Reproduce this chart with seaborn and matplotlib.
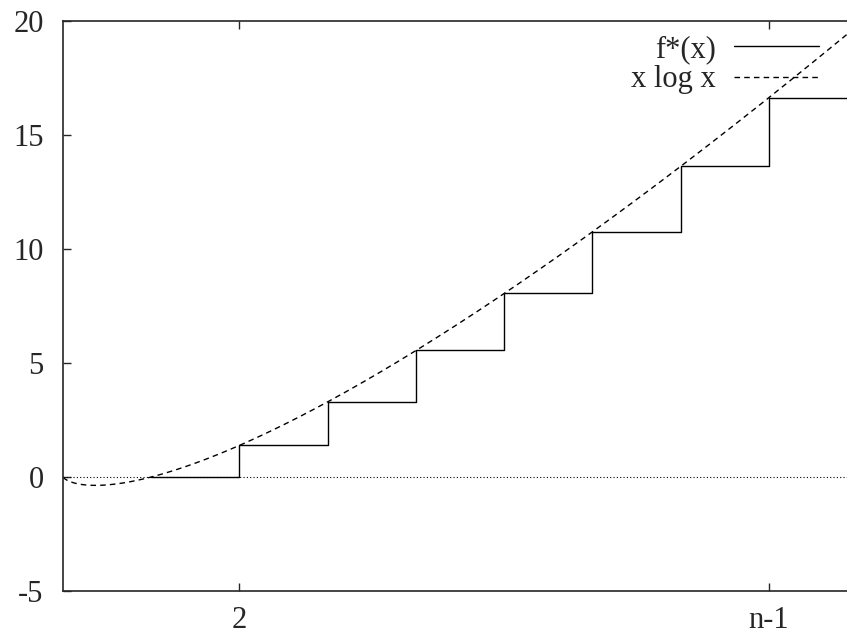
import numpy as np
import pandas as pd
import matplotlib
matplotlib.use("Agg")
import matplotlib.pyplot as plt
import seaborn as sns

# step function f*(x): value held on [k, k+1)
step_x = [1, 2, 3, 4, 5, 6, 7, 8, 9]
step_y = [0, 1.39, 3.30, 5.55, 8.05, 10.75, 13.62, 16.64, 16.64]

# smooth comparison curve x log x
curve_x = np.linspace(0.001, 9, 400)
curve_y = curve_x * np.log(curve_x)

xtick_pos = [2, 8]
xtick_labels = ["2", "n-1"]
ytick_pos = [-5, 0, 5, 10, 15, 20]

sns.set_style("ticks")
plt.rcParams['font.family'] = ['Liberation Serif', 'DejaVu Serif']
plt.rcParams['axes.unicode_minus'] = False

df_step = pd.DataFrame({"x": step_x, "y": step_y})
df_curve = pd.DataFrame({"x": curve_x, "y": curve_y})

fig = plt.figure(figsize=(8.47, 6.35), dpi=100)
ax = fig.add_axes([63 / 847, 1 - 591 / 635, (857 - 63) / 847, (591 - 21) / 635])

ax.axhline(0, color="black", lw=0.8, ls=(0, (1, 2)), zorder=1)
sns.lineplot(data=df_step, x="x", y="y", ax=ax, color="black", lw=1.0,
             drawstyle="steps-post", label="f*(x)", sort=False)
sns.lineplot(data=df_curve, x="x", y="y", ax=ax, color="black", lw=1.0,
             ls=(0, (4, 3)), label="x log x", sort=False)

ax.set_xlim(0, 9)
ax.set_ylim(-5, 20)
ax.set_xticks(xtick_pos)
ax.set_xticklabels(xtick_labels)
ax.set_yticks(ytick_pos)
ax.set_xlabel("")
ax.set_ylabel("")
for s in ax.spines.values():
    s.set_visible(True)
    s.set_linewidth(1.2)
ax.tick_params(direction="in", length=6, width=1, top=True, right=True,
               labelsize=22)
ax.tick_params(axis="x", pad=11)
ax.tick_params(axis="y", pad=14)

ax.legend(loc="upper right", bbox_to_anchor=(826 / 857 + 0.012, 1.008),
          frameon=False, markerfirst=False, fontsize=22, handlelength=2.8,
          handletextpad=0.6, labelspacing=0.05, borderaxespad=0.2)

fig.savefig("out.png", dpi=100)
